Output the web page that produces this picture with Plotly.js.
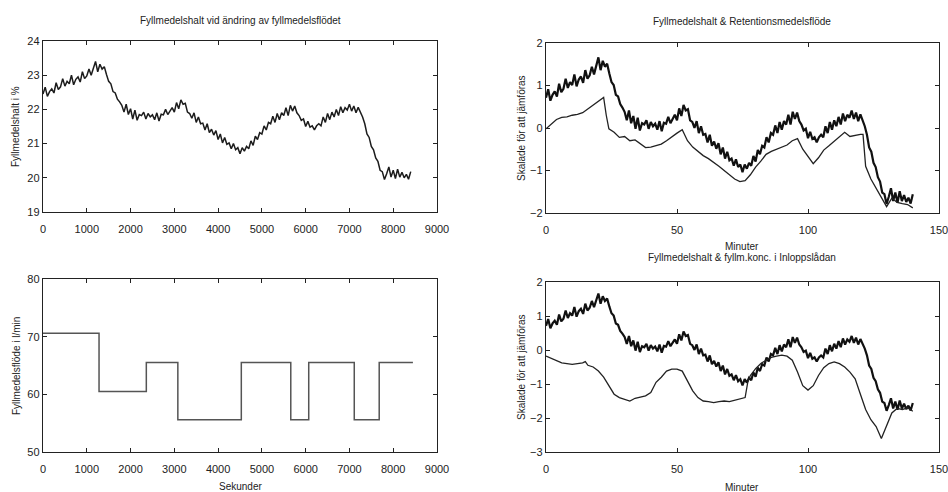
<!DOCTYPE html>
<html>
<head>
<meta charset="utf-8">
<script src="https://cdn.plot.ly/plotly-3.0.1.min.js"></script>
<style>html,body{margin:0;padding:0;background:#fff;}#chart{width:948px;height:492px;}</style>
</head>
<body>
<div id="chart"></div>
<script>
// Panel 1: Fyllmedelshalt (%), sampled every 50 s from 0 to 8400 s
const sampleStepSec = 50;
const fyllmedelshalt = [
22.45,22.65,22.38,22.52,22.60,22.48,22.78,22.58,22.66,22.90,
22.68,22.82,22.75,23.00,22.72,22.88,22.95,22.80,23.10,22.90,
22.98,23.18,23.00,23.20,23.40,23.10,23.32,23.18,23.25,23.02,
22.82,22.75,22.52,22.48,22.30,22.22,22.12,21.92,22.15,21.85,
22.02,21.72,21.98,21.68,21.85,21.82,21.92,21.72,21.88,21.78,
21.84,21.70,21.90,21.66,21.86,21.84,22.00,21.85,21.95,22.05,
21.92,22.20,22.02,22.28,22.15,22.18,21.92,21.88,21.74,21.90,
21.62,21.78,21.58,21.60,21.40,21.58,21.32,21.42,21.25,21.38,
21.12,21.28,21.02,21.18,20.98,21.02,20.85,21.00,20.82,20.88,
20.70,20.88,20.78,20.92,20.85,21.08,20.95,21.22,21.12,21.32,
21.28,21.52,21.40,21.62,21.58,21.80,21.62,21.88,21.70,21.90,
21.82,22.05,21.82,22.12,21.95,22.10,21.90,21.82,21.68,21.72,
21.50,21.65,21.48,21.52,21.40,21.52,21.58,21.52,21.78,21.62,
21.88,21.70,21.92,21.78,22.00,21.82,22.08,21.90,22.05,21.98,
22.15,21.95,22.10,21.90,22.06,21.92,21.78,21.58,21.28,21.18,
20.92,20.82,20.58,20.48,20.22,20.18,19.95,20.12,20.32,20.02,
20.22,19.98,20.25,20.02,20.16,20.00,20.10,19.96,20.18
];

// Panel 3: Fyllmedelsflöde (l/min), step changes
const flowTimesSec = [0,1280,2360,3080,4530,5660,6070,7110,7680,8450];
const flowValues   = [70.6,60.5,65.5,55.6,65.5,55.6,65.5,55.6,65.5,65.5];

// Panel 2: Retentionsmedelsflöde (scaled), minutes
const retMin = [0,2,4,6,8,10,12,14,16,18,20,22,23,24,26,28,30,32,34,36,38,40,42,44,46,48,50,52,54,56,58,60,62,64,66,68,70,72,74,76,78,80,82,84,86,88,90,92,94,96,98,100,102,104,106,108,110,112,114,116,118,120,121,122,124,126,128,130,132,134,136,138,140];
const retScaled = [-0.02,0.08,0.20,0.25,0.26,0.30,0.32,0.36,0.45,0.55,0.62,0.72,0.30,-0.02,-0.10,-0.22,-0.20,-0.30,-0.28,-0.38,-0.46,-0.45,-0.42,-0.38,-0.30,-0.20,-0.12,-0.04,-0.30,-0.45,-0.55,-0.65,-0.72,-0.80,-0.90,-1.00,-1.10,-1.20,-1.26,-1.24,-1.10,-0.92,-0.78,-0.62,-0.55,-0.50,-0.45,-0.40,-0.30,-0.25,-0.50,-0.68,-0.84,-0.70,-0.52,-0.42,-0.32,-0.22,-0.10,-0.20,-0.17,-0.15,-0.15,-0.90,-1.20,-1.42,-1.65,-1.85,-1.65,-1.75,-1.78,-1.80,-1.88];

// Panel 4: fyllm.konc. i inloppslådan (scaled), minutes
const koncMin = [0,2,4,6,8,10,12,14,15,16,18,20,22,24,26,28,30,32,34,36,38,40,42,44,46,48,50,52,54,56,58,60,62,64,66,68,70,72,74,76,77,78,80,82,84,86,88,90,92,94,96,98,100,102,104,106,108,110,112,114,116,118,120,122,124,126,128,130,132,134,136,138,140];
const koncScaled = [-0.18,-0.25,-0.32,-0.38,-0.40,-0.42,-0.40,-0.38,-0.34,-0.45,-0.50,-0.62,-0.80,-1.05,-1.30,-1.40,-1.45,-1.50,-1.42,-1.38,-1.35,-1.25,-0.95,-0.80,-0.62,-0.56,-0.56,-0.62,-0.90,-1.20,-1.40,-1.50,-1.52,-1.55,-1.52,-1.50,-1.52,-1.48,-1.45,-1.40,-0.95,-0.75,-0.55,-0.40,-0.30,-0.22,-0.18,-0.15,-0.18,-0.30,-0.65,-1.05,-1.18,-1.05,-0.75,-0.52,-0.40,-0.35,-0.40,-0.50,-0.65,-0.85,-1.30,-1.75,-2.05,-2.25,-2.60,-2.20,-1.85,-1.72,-1.75,-1.70,-1.80];

// Derived
const tSec = fyllmedelshalt.map((_, i) => i * sampleStepSec);
const tMin = tSec.map(t => t / 60);
const meanF = fyllmedelshalt.reduce((a, b) => a + b, 0) / fyllmedelshalt.length;
const fyllScaled = fyllmedelshalt.map(v => v - meanF);

const W = 948, H = 492;
const px = x => x / W, py = y => 1 - y / H;

const FONT = 'Liberation Sans, Arial, sans-serif';
const ink = '#222';

function axisBase(extra) {
  return Object.assign({
    showgrid: false, zeroline: false, showline: true, linecolor: ink, linewidth: 1.2,
    mirror: 'ticks', ticks: 'inside', ticklen: 4, tickwidth: 1, tickcolor: ink,
    tickfont: {family: FONT, size: 11, color: ink}, fixedrange: true,
    ticklabeloverflow: 'allow'
  }, extra);
}

const traces = [
  {x: tSec, y: fyllmedelshalt, type: 'scatter', mode: 'lines', xaxis: 'x', yaxis: 'y',
   line: {color: '#1c1c1c', width: 1.5}, showlegend: false},
  {x: tMin, y: fyllScaled, type: 'scatter', mode: 'lines', xaxis: 'x2', yaxis: 'y2',
   line: {color: '#111', width: 2.2}, showlegend: false},
  {x: retMin, y: retScaled, type: 'scatter', mode: 'lines', xaxis: 'x2', yaxis: 'y2',
   line: {color: '#222', width: 1.3}, showlegend: false},
  {x: flowTimesSec, y: flowValues, type: 'scatter', mode: 'lines', xaxis: 'x3', yaxis: 'y3',
   line: {color: '#555', width: 1.5, shape: 'hv'}, showlegend: false},
  {x: tMin, y: fyllScaled, type: 'scatter', mode: 'lines', xaxis: 'x4', yaxis: 'y4',
   line: {color: '#111', width: 2.2}, showlegend: false},
  {x: koncMin, y: koncScaled, type: 'scatter', mode: 'lines', xaxis: 'x4', yaxis: 'y4',
   line: {color: '#222', width: 1.3}, showlegend: false}
];

function ann(text, x, y, opts) {
  return Object.assign({text: text, x: px(x), y: py(y), xref: 'paper', yref: 'paper',
    showarrow: false, xanchor: 'center', yanchor: 'middle',
    font: {family: FONT, size: 10, color: ink}}, opts || {});
}

const xs = {ticklabelstandoff: 7};
const layout = {
  width: W, height: H,
  margin: {l: 0, r: 0, t: 0, b: 0},
  paper_bgcolor: '#fff', plot_bgcolor: '#fff',
  showlegend: false,
  xaxis:  axisBase(Object.assign({domain: [px(43), px(437)], range: [0, 9000], dtick: 1000, anchor: 'y'}, xs)),
  yaxis:  axisBase({domain: [py(212), py(41)], range: [19, 24], dtick: 1, anchor: 'x'}),
  xaxis2: axisBase(Object.assign({domain: [px(546), px(939)], range: [0, 150], dtick: 50, anchor: 'y2'}, xs)),
  yaxis2: axisBase({domain: [py(213), py(43)], range: [-2, 2], dtick: 1, anchor: 'x2'}),
  xaxis3: axisBase(Object.assign({domain: [px(43), px(437)], range: [0, 9000], dtick: 1000, anchor: 'y3'}, xs)),
  yaxis3: axisBase({domain: [py(452), py(279)], range: [50, 80], dtick: 10, anchor: 'x3'}),
  xaxis4: axisBase(Object.assign({domain: [px(546), px(939)], range: [0, 150], dtick: 50, anchor: 'y4'}, xs)),
  yaxis4: axisBase({domain: [py(452), py(282)], range: [-3, 2], dtick: 1, anchor: 'x4'}),
  annotations: [
    ann('Fyllmedelshalt vid ändring av fyllmedelsflödet', 240, 20),
    ann('Fyllmedelshalt & Retentionsmedelsflöde', 742, 21),
    ann('Minuter', 742, 246),
    ann('Fyllmedelshalt & fyllm.konc. i Inloppslådan', 742, 257),
    ann('Sekunder', 240, 486),
    ann('Minuter', 742, 487),
    ann('Fyllmedelshalt i %', 16, 127, {textangle: -90}),
    ann('Fyllmedelsflöde i l/min', 16, 366, {textangle: -90}),
    ann('Skalade för att jämföras', 521, 128, {textangle: -90}),
    ann('Skalade för att jämföras', 521, 367, {textangle: -90})
  ]
};

Plotly.newPlot('chart', traces, layout, {staticPlot: true, displayModeBar: false});
</script>
</body>
</html>
